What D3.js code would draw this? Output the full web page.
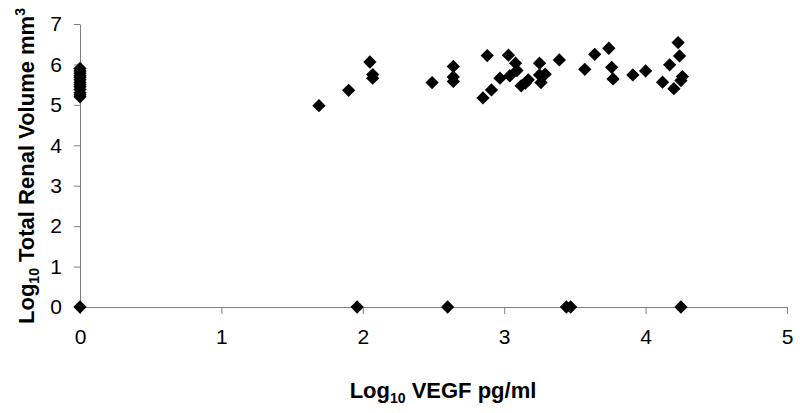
<!DOCTYPE html>
<html>
<head>
<meta charset="utf-8">
<script src="https://cdn.jsdelivr.net/npm/d3@7"></script>
<style>
  body { margin: 0; background: #fff; }
  svg { display: block; font-family: "Liberation Sans", Arial, sans-serif; }
  .axis path, .axis line { stroke: #808080; }
  .axis text { font-size: 21px; fill: #000; }
</style>
</head>
<body>
<div id="chart"></div>
<script>
// log10 VEGF (pg/ml) vs log10 total renal volume (mm3)
const zeroVegfVolumes = [5.2, 5.25, 5.3, 5.38, 5.45, 5.5, 5.55, 5.62, 5.68, 5.72, 5.78, 5.84, 5.9];

const vegf = [1.69, 1.90, 2.05, 2.07, 2.07, 2.49, 2.64, 2.64, 2.64,
  2.85, 2.91, 2.88, 2.97, 3.03, 3.04, 3.08, 3.09, 3.12, 3.15, 3.17,
  3.25, 3.25, 3.26, 3.29, 3.39, 3.57, 3.64, 3.74, 3.76, 3.77,
  3.91, 4.00, 4.12, 4.17, 4.20, 4.23, 4.24, 4.26, 4.25];
const volume = [4.98, 5.36, 6.06, 5.75, 5.66, 5.55, 5.95, 5.69, 5.58,
  5.17, 5.37, 6.22, 5.66, 6.23, 5.72, 6.03, 5.85, 5.47, 5.54, 5.62,
  6.03, 5.74, 5.55, 5.76, 6.11, 5.88, 6.25, 6.40, 5.93, 5.64,
  5.74, 5.84, 5.56, 5.99, 5.40, 6.54, 6.21, 5.70, 5.60];

// samples with zero volume
const zeroVolumeVegf = [0, 1.96, 2.60, 3.44, 3.47, 4.25];

const xTicks = [0, 1, 2, 3, 4, 5];
const yTicks = [0, 1, 2, 3, 4, 5, 6, 7];

const width = 800;
const height = 413;
const margin = { top: 24, right: 13, bottom: 106, left: 80 };

let points = [];
zeroVegfVolumes.forEach((v) => points.push({ x: 0, y: v }));
vegf.forEach((v, i) => points.push({ x: v, y: volume[i] }));
zeroVolumeVegf.forEach((v) => points.push({ x: v, y: 0 }));

const svg = d3
  .select('#chart')
  .append('svg')
  .attr('width', width)
  .attr('height', height);

const xScale = d3.scaleLinear().domain([0, 5]).range([margin.left, width - margin.right]);
const yScale = d3.scaleLinear().domain([0, 7]).range([height - margin.bottom, margin.top]);

// x axis
svg
  .append('g')
  .attr('class', 'axis')
  .attr('transform', `translate(0, ${yScale(0)})`)
  .call(d3.axisBottom(xScale).tickValues(xTicks).tickSize(7).tickSizeOuter(0).tickPadding(15).tickFormat(d3.format('d')));

// y axis
svg
  .append('g')
  .attr('class', 'axis')
  .attr('transform', `translate(${xScale(0)}, 0)`)
  .call(d3.axisLeft(yScale).tickValues(yTicks).tickSize(6).tickSizeOuter(0).tickPadding(12).tickFormat(d3.format('d')));

// markers
const diamond = d3.symbol(d3.symbolSquare, 88);
svg
  .append('g')
  .selectAll('path')
  .data(points)
  .join('path')
  .attr('d', diamond)
  .attr('transform', (d) => `translate(${xScale(d.x)}, ${yScale(d.y)}) rotate(45)`)
  .attr('fill', '#000');

// axis titles
const xTitle = svg
  .append('text')
  .attr('x', 443)
  .attr('y', 398)
  .attr('text-anchor', 'middle')
  .style('font-size', '22px')
  .style('font-weight', 'bold');
xTitle.append('tspan').text('Log');
xTitle.append('tspan').attr('dy', 5).style('font-size', '14px').text('10');
xTitle.append('tspan').attr('dy', -5).text(' VEGF pg/ml');

const yTitle = svg
  .append('text')
  .attr('transform', 'translate(34, 166) rotate(-90)')
  .attr('text-anchor', 'middle')
  .style('font-size', '22px')
  .style('font-weight', 'bold');
yTitle.append('tspan').text('Log');
yTitle.append('tspan').attr('dy', 5).style('font-size', '14px').text('10');
yTitle.append('tspan').attr('dy', -5).text(' Total Renal Volume mm');
yTitle.append('tspan').attr('dy', -9).style('font-size', '14px').text('3');
</script>
</body>
</html>
